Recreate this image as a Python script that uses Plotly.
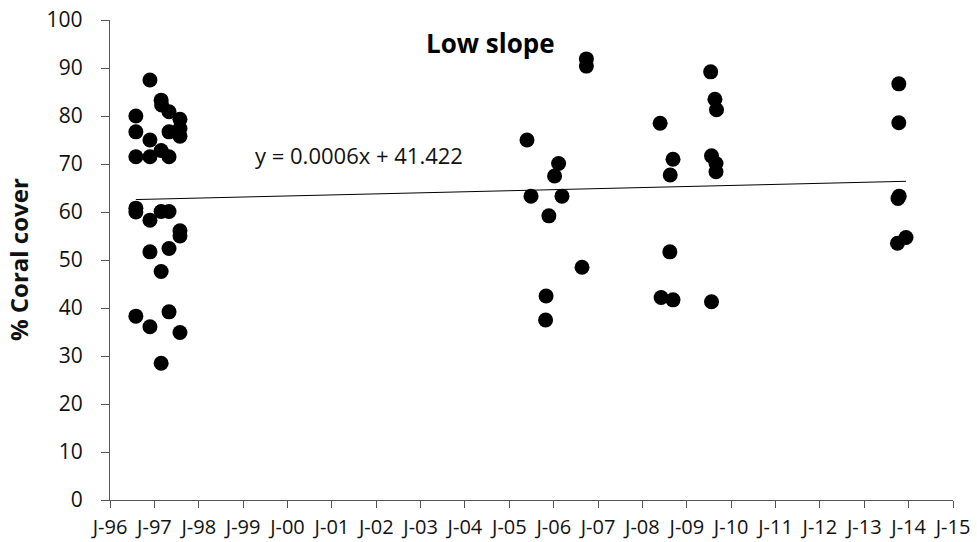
import datetime as dt
import plotly.graph_objects as go

# Survey dates and percent coral cover (low slope sites)
survey_dates = [
    "1996-08-01", "1996-08-01", "1996-08-01", "1996-08-01", "1996-08-01", "1996-08-01",
    "1996-11-25", "1996-11-25", "1996-11-25", "1996-11-25", "1996-11-25", "1996-11-25",
    "1997-02-25", "1997-03-01", "1997-02-25", "1997-02-25", "1997-02-25", "1997-02-25",
    "1997-05-01", "1997-05-01", "1997-05-01", "1997-05-01", "1997-05-01", "1997-05-01",
    "1997-07-30", "1997-07-30", "1997-07-30", "1997-07-30", "1997-07-30", "1997-07-30",
    "2005-05-26", "2005-06-28", "2005-10-26", "2005-10-30", "2005-11-22",
    "2006-01-08", "2006-02-10", "2006-03-10", "2006-08-22", "2006-09-27", "2006-09-27",
    "2008-05-26", "2008-06-03", "2008-08-14", "2008-08-17", "2008-09-09", "2008-09-09",
    "2009-07-16", "2009-07-23", "2009-07-23", "2009-08-20", "2009-08-29", "2009-08-29",
    "2009-09-02",
    "2013-10-01", "2013-10-12", "2013-10-12", "2013-10-05", "2013-10-15", "2013-12-10",
]
coral_cover = [
    80.0, 76.7, 71.5, 60.8, 60.0, 38.3,
    87.5, 75.0, 71.5, 58.3, 51.7, 36.1,
    83.3, 82.3, 72.8, 60.1, 47.6, 28.5,
    80.9, 76.7, 71.5, 60.1, 52.4, 39.2,
    79.3, 77.4, 75.8, 56.1, 55.0, 34.9,
    75.0, 63.3, 37.5, 42.5, 59.2,
    67.5, 70.1, 63.3, 48.5, 91.9, 90.4,
    78.5, 42.2, 51.7, 67.7, 71.0, 41.7,
    89.2, 71.7, 41.3, 83.5, 70.1, 68.4,
    81.3,
    53.5, 86.7, 78.6, 62.8, 63.3, 54.7,
]

# Linear trend as reported: y = 0.0006x + 41.422 (x = spreadsheet day serial)
trend_slope = 0.0006
trend_intercept = 41.422

tick_years = list(range(1996, 2016))
tick_labels = ["J-%02d" % (y % 100) for y in tick_years]
tick_values = ["%d-01-01" % y for y in tick_years]

EPOCH = dt.date(1899, 12, 30)

# trend drawn across the surveyed period only
parsed = sorted(dt.date.fromisoformat(d) for d in survey_dates)
trend_dates = [parsed[0], parsed[-1]]
trend_x = [d.isoformat() for d in trend_dates]
trend_y = [trend_slope * (d - EPOCH).days + trend_intercept for d in trend_dates]

FONT = "Open Sans"
TEXT = "#111111"
AXIS = "#555555"

fig = go.Figure()
fig.add_trace(go.Scatter(
    x=trend_x, y=trend_y, mode="lines",
    line=dict(color="black", width=1), hoverinfo="skip", showlegend=False,
))
fig.add_trace(go.Scatter(
    x=survey_dates, y=coral_cover, mode="markers",
    marker=dict(color="black", size=15, line=dict(width=0)),
    showlegend=False,
))

fig.update_layout(
    width=977, height=542,
    margin=dict(l=110, r=24, t=20, b=42),
    paper_bgcolor="white", plot_bgcolor="white",
    font=dict(family=FONT, color=TEXT, size=20),
    xaxis=dict(
        type="date", range=["1996-01-01", "2015-01-01"],
        tickmode="array", tickvals=tick_values, ticktext=tick_labels,
        showgrid=False, zeroline=False, automargin=False,
        showline=True, linecolor=AXIS, linewidth=1.3,
        ticks="outside", ticklen=7, tickcolor=AXIS, tickwidth=1.3,
        ticklabelstandoff=2,
        tickfont=dict(family=FONT, size=20, color=TEXT),
    ),
    yaxis=dict(
        range=[0, 100], dtick=10, tick0=0,
        showgrid=False, zeroline=False, automargin=False,
        showline=True, linecolor=AXIS, linewidth=1.3,
        ticks="outside", ticklen=8, tickcolor=AXIS, tickwidth=1.3,
        ticklabelstandoff=14,
        tickfont=dict(family=FONT, size=21, color=TEXT),
    ),
    annotations=[
        dict(text="<b>% Coral cover</b>", xref="paper", yref="paper", x=-0.109, y=0.5,
             xanchor="center", yanchor="middle", textangle=-90,
             showarrow=False, font=dict(family=FONT, size=24, color=TEXT)),
        dict(text="<b>Low slope</b>", xref="paper", yref="paper", x=0.451, y=0.952,
             xanchor="center", yanchor="middle",
             showarrow=False, font=dict(family=FONT, size=26, color="black")),
        dict(text="y = 0.0006x + 41.422", xref="paper", yref="paper", x=0.295, y=0.719,
             xanchor="center", yanchor="middle",
             showarrow=False, font=dict(family=FONT, size=22, color=TEXT)),
    ],
)

fig.write_html("out.html")
